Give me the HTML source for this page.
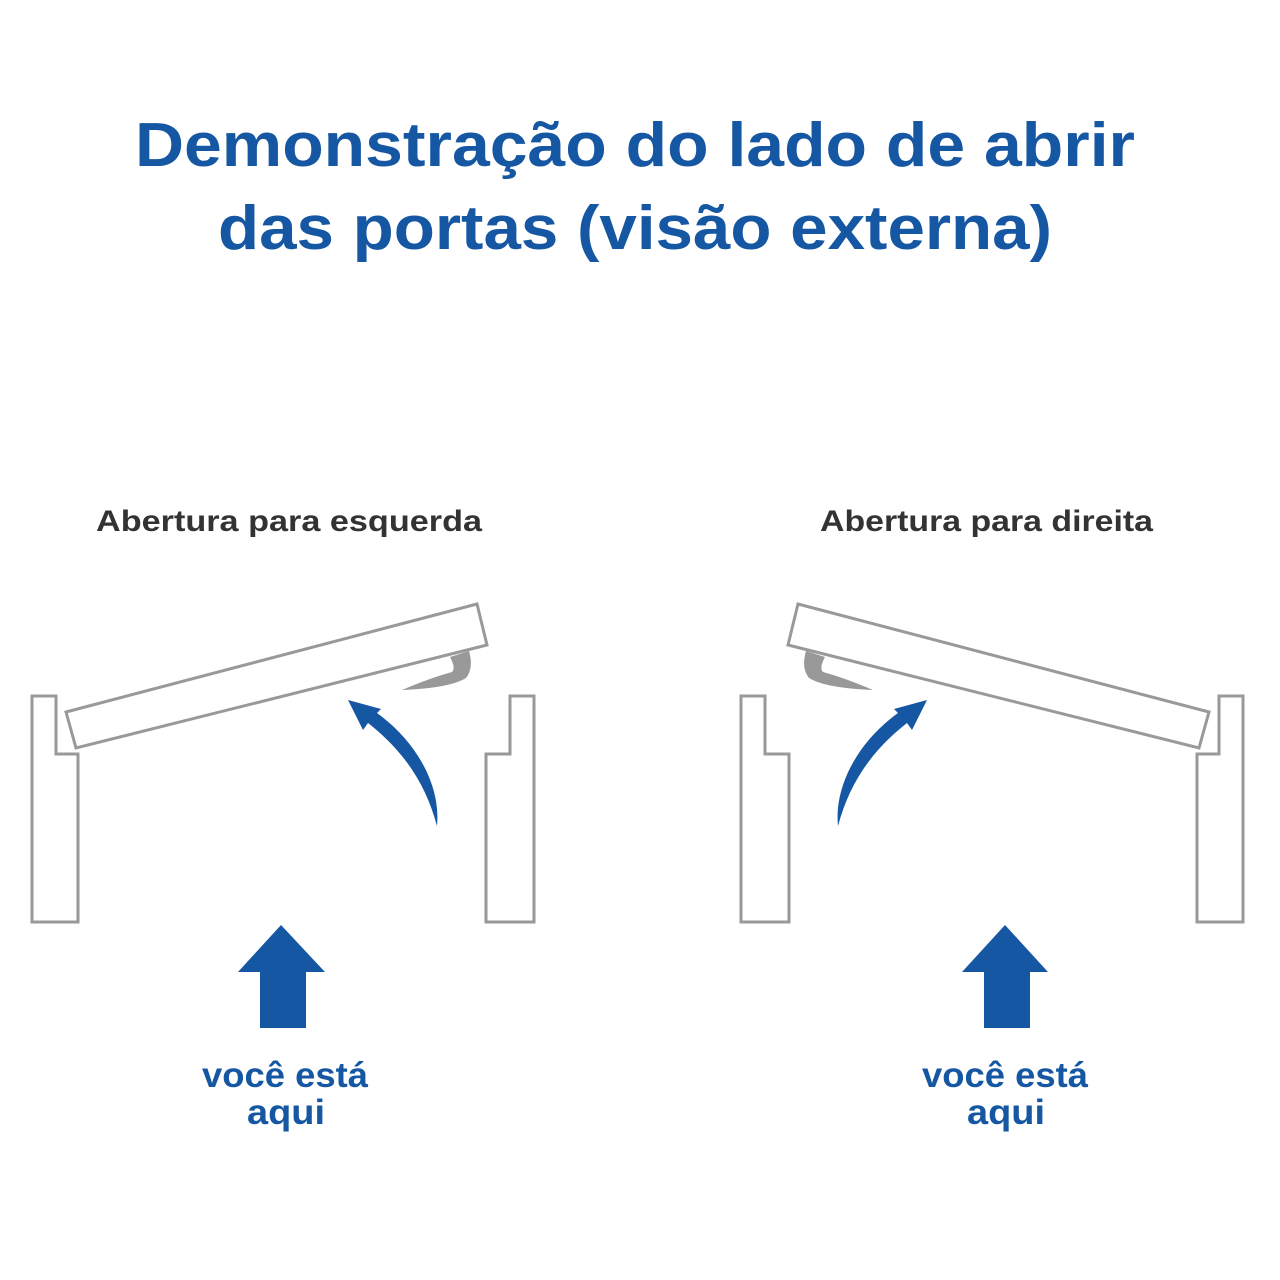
<!DOCTYPE html>
<html><head><meta charset="utf-8"><style>
html,body{margin:0;padding:0;background:#fff;}
svg{display:block;}
</style></head><body>
<svg width="1280" height="1280" viewBox="0 0 1280 1280" xmlns="http://www.w3.org/2000/svg">
<rect width="1280" height="1280" fill="#fff"/>
<g font-family="Liberation Sans, Arial, sans-serif" font-weight="bold">
<text x="135" y="166" font-size="62" fill="#1557a2" textLength="1000" lengthAdjust="spacingAndGlyphs">Demonstração do lado de abrir</text>
<text x="218" y="249" font-size="62" fill="#1557a2" textLength="834" lengthAdjust="spacingAndGlyphs">das portas (visão externa)</text>
<text x="96" y="531" font-size="30" fill="#333" textLength="386" lengthAdjust="spacingAndGlyphs">Abertura para esquerda</text>
<text x="820" y="531" font-size="30" fill="#333" textLength="333" lengthAdjust="spacingAndGlyphs">Abertura para direita</text>
<text x="202" y="1087" font-size="35" fill="#1557a2" textLength="166" lengthAdjust="spacingAndGlyphs">você está</text>
<text x="247" y="1124" font-size="35" fill="#1557a2" textLength="78" lengthAdjust="spacingAndGlyphs">aqui</text>
<text x="922" y="1087" font-size="35" fill="#1557a2" textLength="166" lengthAdjust="spacingAndGlyphs">você está</text>
<text x="967" y="1124" font-size="35" fill="#1557a2" textLength="78" lengthAdjust="spacingAndGlyphs">aqui</text>
</g>
<defs>
<g id="panel">
<path d="M32,696 L56,696 L56,754 L78,754 L78,922 L32,922 Z" fill="none" stroke="#999" stroke-width="3"/>
<path d="M534,696 L510,696 L510,754 L486,754 L486,922 L534,922 Z" fill="none" stroke="#999" stroke-width="3"/>
<path d="M66,712 L477,604 L487,645 L76,748 Z" fill="#fff" stroke="#999" stroke-width="3"/>
<path d="M450,657 L469,651 Q474,668 466,678 Q450,688 402,690 Q430,678 452,672 Q456,668 450,657 Z" fill="#999"/>
<path d="M437,826 C441,785 416,741 377,713 L381,709 L348,700 L363,730 L368,723 C405,752 426,785 437,826 Z" fill="#1557a2"/>
</g>
</defs>
<use href="#panel"/>
<use href="#panel" transform="translate(1275,0) scale(-1,1)"/>
<path d="M281,925 L325,972 L306,972 L306,1028 L260,1028 L260,972 L238,972 Z" fill="#1557a2"/>
<path d="M1005,925 L1048,972 L1030,972 L1030,1028 L984,1028 L984,972 L962,972 Z" fill="#1557a2"/>
</svg>
</body></html>
